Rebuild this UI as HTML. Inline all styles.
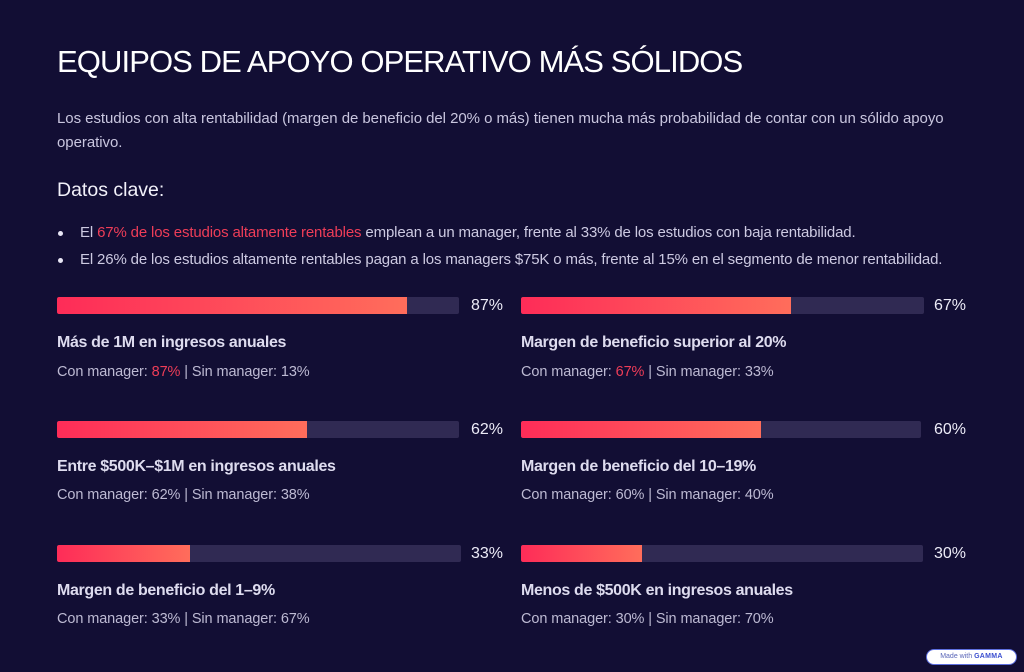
<!DOCTYPE html>
<html><head><meta charset="utf-8"><style>
html,body{margin:0;padding:0}
body{width:1024px;height:672px;background:#120e34;position:relative;overflow:hidden;font-family:"Liberation Sans",sans-serif}
.a{position:absolute;white-space:nowrap}
.title{left:57px;top:42px;font-size:31px;line-height:40px;color:#fff;letter-spacing:-0.9px}
.p{left:57px;font-size:15px;line-height:24px;color:#c9c6df;letter-spacing:-0.05px}
.h{left:57px;top:177px;font-size:19.5px;line-height:26px;color:#f2f1fa}
.b{font-size:15px;line-height:24px;color:#cdcae2;letter-spacing:-0.15px}
.dot{position:absolute;width:5px;height:5px;border-radius:50%;background:#e8e6f5}
.red{color:#ee3d58}
.track{position:absolute;height:17px;background:#302a53;border-radius:2px;overflow:hidden}
.fill{height:100%;background:linear-gradient(90deg,#fe2c58,#ff6d5b);border-radius:2px 0 0 2px}
.pct{position:absolute;font-size:16px;line-height:20px;color:#ecebf7;text-align:right;width:50px}
.lt{font-size:16px;line-height:22px;color:#dedcef;font-weight:bold;letter-spacing:-0.35px}
.ls{font-size:14.5px;line-height:20px;color:#bdbad3;letter-spacing:-0.1px}
.badge{position:absolute;left:926px;top:649px;width:89px;height:14px;border:1px solid #5d6fe0;border-radius:8px;background:#fff;font-size:7px;line-height:14px;text-align:center;color:#5a66b8}
.badge b{color:#3b4fd0;font-size:7px;letter-spacing:0.3px}
</style></head><body>
<div class="a title">EQUIPOS DE APOYO OPERATIVO MÁS SÓLIDOS</div>
<div class="a p" style="top:107px">Los estudios con alta rentabilidad (margen de beneficio del 20% o más) tienen mucha más probabilidad de contar con un sólido apoyo</div>
<div class="a p" style="top:131px">operativo.</div>
<div class="a h">Datos clave:</div>
<div class="dot" style="left:58px;top:231px"></div>
<div class="a b" style="left:80px;top:221px">El <span class="red">67% de los estudios altamente rentables</span> emplean a un manager, frente al 33% de los estudios con baja rentabilidad.</div>
<div class="dot" style="left:58px;top:258px"></div>
<div class="a b" style="left:80px;top:248px">El 26% de los estudios altamente rentables pagan a los managers $75K o más, frente al 15% en el segmento de menor rentabilidad.</div>

<!-- Row 1 -->
<div class="track" style="left:57px;top:297px;width:402px"><div class="fill" style="width:350px"></div></div>
<div class="pct" style="left:453px;top:296px">87%</div>
<div class="a lt" style="left:57px;top:332px">Más de 1M en ingresos anuales</div>
<div class="a ls" style="left:57px;top:362px">Con manager: <span class="red">87%</span> | Sin manager: 13%</div>

<div class="track" style="left:521px;top:297px;width:403px"><div class="fill" style="width:270px"></div></div>
<div class="pct" style="left:916px;top:296px">67%</div>
<div class="a lt" style="left:521px;top:332px">Margen de beneficio superior al 20%</div>
<div class="a ls" style="left:521px;top:362px">Con manager: <span class="red">67%</span> | Sin manager: 33%</div>

<!-- Row 2 -->
<div class="track" style="left:57px;top:421px;width:402px"><div class="fill" style="width:250px"></div></div>
<div class="pct" style="left:453px;top:420px">62%</div>
<div class="a lt" style="left:57px;top:456px">Entre $500K–$1M en ingresos anuales</div>
<div class="a ls" style="left:57px;top:485px">Con manager: 62% | Sin manager: 38%</div>

<div class="track" style="left:521px;top:421px;width:400px"><div class="fill" style="width:240px"></div></div>
<div class="pct" style="left:916px;top:420px">60%</div>
<div class="a lt" style="left:521px;top:456px">Margen de beneficio del 10–19%</div>
<div class="a ls" style="left:521px;top:485px">Con manager: 60% | Sin manager: 40%</div>

<!-- Row 3 -->
<div class="track" style="left:57px;top:545px;width:404px"><div class="fill" style="width:133px"></div></div>
<div class="pct" style="left:453px;top:544px">33%</div>
<div class="a lt" style="left:57px;top:580px">Margen de beneficio del 1–9%</div>
<div class="a ls" style="left:57px;top:609px">Con manager: 33% | Sin manager: 67%</div>

<div class="track" style="left:521px;top:545px;width:402px"><div class="fill" style="width:121px"></div></div>
<div class="pct" style="left:916px;top:544px">30%</div>
<div class="a lt" style="left:521px;top:580px">Menos de $500K en ingresos anuales</div>
<div class="a ls" style="left:521px;top:609px">Con manager: 30% | Sin manager: 70%</div>

<div class="badge">Made with <b>GAMMA</b></div>
</body></html>
